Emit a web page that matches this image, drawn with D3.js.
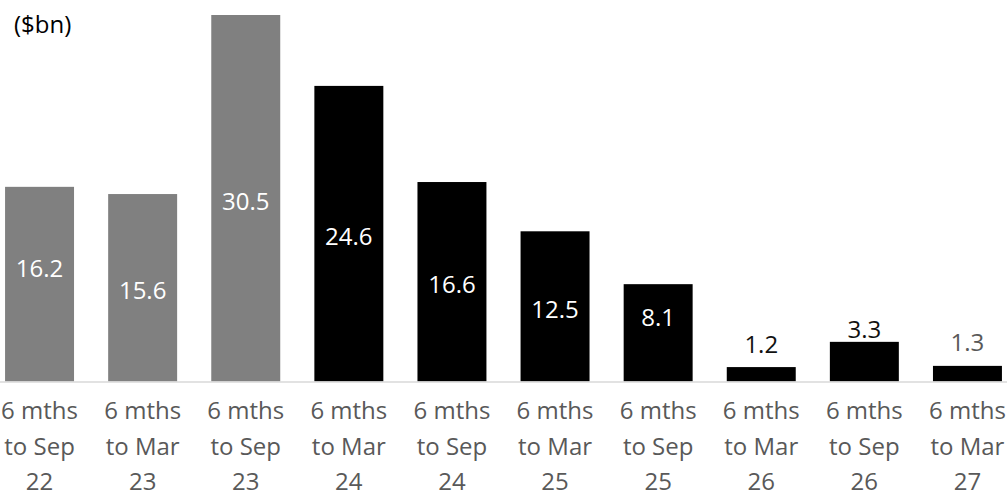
<!DOCTYPE html>
<html>
<head>
<meta charset="utf-8">
<script src="https://cdn.jsdelivr.net/npm/d3@7"></script>
<style>
  html, body { margin: 0; padding: 0; background: #fff; }
  svg { display: block; }
  text { font-family: "Open Sans", "Noto Sans", sans-serif; }
</style>
</head>
<body>
<svg id="chart" width="1007" height="492"></svg>
<script>
// ---- data ----
const categories = [
  ["6 mths", "to Sep", "22"],
  ["6 mths", "to Mar", "23"],
  ["6 mths", "to Sep", "23"],
  ["6 mths", "to Mar", "24"],
  ["6 mths", "to Sep", "24"],
  ["6 mths", "to Mar", "25"],
  ["6 mths", "to Sep", "25"],
  ["6 mths", "to Mar", "26"],
  ["6 mths", "to Sep", "26"],
  ["6 mths", "to Mar", "27"]
];
const values = [16.2, 15.6, 30.5, 24.6, 16.6, 12.5, 8.1, 1.2, 3.3, 1.3];
const actual = [true, true, true, false, false, false, false, false, false, false];
const unitLabel = "($bn)";

// ---- style (kept apart from data) ----
const W = 1007, H = 492;
const baseY = 381.5, topY = 15;
const colActual = "#808080", colForecast = "#000000";
const axisTextColor = "#595959";
const fontSize = 24;
const labelNudge = [-19, 0, 0, 0, 0, 0, -18, 0, 11, 0];      // manual label moves (px)
const outsideColor = ["#000", "#000", "#000", "#000", "#000", "#000", "#000", "#111", "#111", "#595959"];

const svg = d3.select("#chart");
const keys = categories.map((c, i) => i);

const x = d3.scaleBand()
  .domain(keys)
  .range([-12, 1019])
  .paddingInner(0.331)
  .paddingOuter(0.1655);

const y = d3.scaleLinear()
  .domain([0, 30.5])
  .range([baseY, topY]);

// bars
svg.append("g").selectAll("rect")
  .data(values)
  .join("rect")
  .attr("x", (d, i) => x(i))
  .attr("y", d => y(d))
  .attr("width", x.bandwidth())
  .attr("height", d => y(0) - y(d))
  .attr("fill", (d, i) => actual[i] ? colActual : colForecast);

// axis line
const xAxis = d3.axisBottom(x).tickSize(0).tickFormat("");
const gx = svg.append("g").attr("transform", `translate(0,${baseY})`).call(xAxis);
gx.select(".domain").remove();
svg.append("line")
  .attr("x1", 0).attr("x2", W)
  .attr("y1", baseY + 0.5).attr("y2", baseY + 0.5)
  .attr("stroke", "#d9d9d9").attr("stroke-width", 1.5);

// category labels
const lineBaselines = [419, 454.5, 490];
const catG = svg.append("g");
categories.forEach((lines, i) => {
  const cx = x(i) + x.bandwidth() / 2;
  lines.forEach((t, k) => {
    catG.append("text")
      .attr("x", cx)
      .attr("y", lineBaselines[k])
      .attr("text-anchor", "middle")
      .attr("font-size", fontSize)
      .attr("fill", axisTextColor)
      .text(t);
  });
});

// value labels
const capHalf = fontSize * 0.714 / 2;
svg.append("g").selectAll("text")
  .data(values)
  .join("text")
  .attr("x", (d, i) => x(i) + x.bandwidth() / 2)
  .attr("y", (d, i) => {
    const inside = (y(0) - y(d)) > 60;
    const c = inside ? (y(d) + y(0)) / 2 + 3 : y(d) - 23;
    return c + capHalf + labelNudge[i];
  })
  .attr("text-anchor", "middle")
  .attr("font-size", fontSize)
  .attr("fill", (d, i) => (y(0) - y(d)) > 60 ? "#ffffff" : outsideColor[i])
  .text(d => d3.format(".1f")(d));

// unit label
svg.append("text")
  .attr("x", 14)
  .attr("y", 33)
  .attr("font-size", fontSize)
  .attr("fill", "#000")
  .text(unitLabel);
</script>
</body>
</html>
